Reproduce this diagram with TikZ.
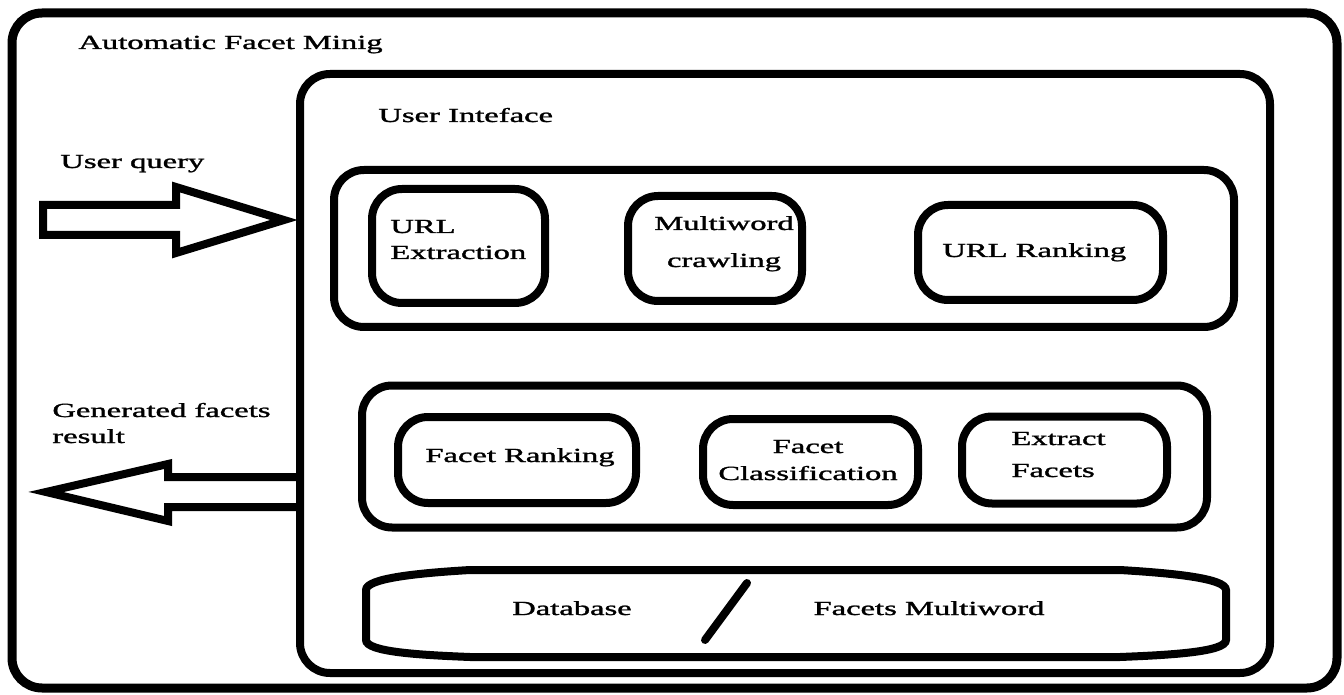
\documentclass[tikz,border=0pt]{standalone}
\usepackage{fontspec}
\usepackage{graphicx}
\setmainfont[FakeBold=1.2]{Liberation Serif}
\newcommand{\wide}[1]{\scalebox{1.63}[1]{#1}}
\begin{document}
\begin{tikzpicture}[x=0.5pt,y=-0.5pt,
  box/.style={draw, line width=4pt, rounded corners=15pt, inner sep=0pt},
  lbl/.style={inner sep=0pt, font=\fontsize{10}{13}\selectfont},
  blockarrow/.style={draw, line width=4pt, miter limit=20}]
\useasboundingbox (0,0) rectangle (1344,695);
% containers
\node[box, line width=4.5pt, minimum width=662.5pt, minimum height=337.5pt] (outer) at (674.5,350.5) {};
\node[box, minimum width=485pt, minimum height=299.5pt] (ui) at (785,373.5) {};
\node[box, minimum width=450pt, minimum height=78.5pt] (topgrp) at (784,248.5) {};
\node[box, minimum width=422.5pt, minimum height=71pt] (botgrp) at (784.5,456.5) {};
% modules
\node[box, minimum width=86.5pt, minimum height=57pt] (urlext) at (458.5,246) {};
\node[box, minimum width=87pt, minimum height=52.5pt] (multi) at (715,248.5) {};
\node[box, minimum width=122.5pt, minimum height=47.5pt] (urlrank) at (1040.5,252.5) {};
\node[box, minimum width=119pt, minimum height=43pt] (facrank) at (517,460) {};
\node[box, minimum width=107.5pt, minimum height=43pt] (facclass) at (810.5,462) {};
\node[box, minimum width=102.5pt, minimum height=43.5pt] (extract) at (1064.5,460) {};
% database
\coordinate (db) at (796,613);
\draw[line width=4pt] (366,640) -- (366,590) .. controls (366,578) and (420,573) .. (470,570)
  -- (1120,570) .. controls (1170,573) and (1226,578) .. (1226,590) -- (1226,640)
  .. controls (1226,652) and (1170,655) .. (1120,657) -- (470,657)
  .. controls (420,655) and (366,652) .. (366,640) -- cycle;
\draw[line width=4pt, line cap=round] (747,583) -- (705,640);
% block arrows
\draw[blockarrow] (43,205) -- (176,205) -- (176,187) -- (284,220) -- (176,253) -- (176,235) -- (43,235) -- cycle;
\draw[blockarrow] (ui.west |- 0,477) -- (168,477) -- (168,464) -- (46,492) -- (168,521) -- (168,507) -- (ui.west |- 0,507);
% labels
\node[lbl, anchor=base west] (title) at (78,49) {\wide{Automatic Facet Minig}};
\node[lbl, anchor=base west] (uitext) at (378,122) {\wide{User Inteface}};
\node[lbl, anchor=base west] (query) at (60,168) {\wide{User query}};
\node[lbl, anchor=base west] (gen) at (52,417) {\wide{\begin{tabular}[t]{@{}l@{}}Generated facets\\result\end{tabular}}};
\node[lbl, anchor=base west] (urlextt) at (390,233) {\wide{\begin{tabular}[t]{@{}l@{}}URL\\Extraction\end{tabular}}};
\node[lbl, anchor=base, font=\fontsize{10}{18.5}\selectfont] (multit) at (724,230) {\wide{\begin{tabular}[t]{@{}c@{}}Multiword\\crawling\end{tabular}}};
\node[lbl, anchor=base west] (urlrankt) at (942,257) {\wide{URL Ranking}};
\node[lbl, anchor=base west] (facrankt) at (425,462) {\wide{Facet Ranking}};
\node[lbl, anchor=base, font=\fontsize{10}{13.5}\selectfont] (facclasst) at (808,453) {\wide{\begin{tabular}[t]{@{}c@{}}Facet\\Classification\end{tabular}}};
\node[lbl, anchor=base west, font=\fontsize{10}{16}\selectfont] (extractt) at (1011,445) {\wide{\begin{tabular}[t]{@{}l@{}}Extract\\Facets\end{tabular}}};
\node[lbl, anchor=base] (dbt) at (572,615) {\wide{Database}};
\node[lbl, anchor=base] (fmt) at (929,615) {\wide{Facets Multiword}};
\end{tikzpicture}
\end{document}
